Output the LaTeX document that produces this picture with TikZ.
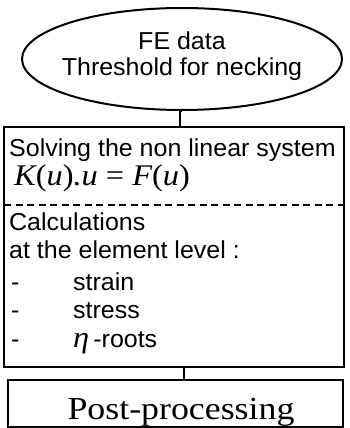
\documentclass[tikz,border=0pt]{standalone}
\usepackage{fontspec}
\setmainfont{Liberation Sans}
\newfontfamily\sansw[FakeStretch=1.02]{Liberation Sans}
\newfontfamily\serifw[FakeStretch=1.12]{Liberation Serif}
\newfontfamily\mathw[FakeStretch=1.08]{Liberation Serif}
\usetikzlibrary{shapes.geometric}
\tikzset{
  line/.style={line width=2pt},
  sans/.style={inner sep=0pt, anchor=base west, font=\sansw\fontsize{24.5}{28}\selectfont},
  csans/.style={inner sep=0pt, anchor=base, font=\sansw\fontsize{24.5}{28}\selectfont},
}
\begin{document}
\begin{tikzpicture}[x=1pt,y=-1pt]
\useasboundingbox (0,0) rectangle (349,428);
% ellipse
\node[draw, line, ellipse, minimum width=320pt, minimum height=102pt, inner sep=0pt] (fe) at (182,59) {};
\node[csans] (fe1) at (182,49) {FE data};
\node[csans] (fe2) at (182,75) {Threshold for necking};
% main box
\node[draw, line, rectangle, minimum width=340pt, minimum height=240pt, inner sep=0pt] (main) at (174,247) {};
\draw[line] (fe.south) -- (fe.south -| 180,0) -- (180,127);
\node[sans] (t1) at (9,156) {Solving the non linear system};
\node[inner sep=0pt, anchor=base west, font=\mathw\fontsize{30}{32}\selectfont] (t2) at (14,185)
  {\itshape K\upshape(\itshape u\upshape)\itshape.u \upshape= \itshape F\upshape(\itshape u\upshape)};
\coordinate (dl) at (4,205);
\coordinate (dr) at (344,205);
\draw[line width=1.5pt, dash pattern=on 7pt off 4.5pt] (dl) -- (dr);
\node[sans] (t3) at (9,230) {Calculations};
\node[sans] (t4) at (9,258) {at the element level :};
\node[sans] (d1) at (11,290) {-};
\node[sans] (d2) at (11,318) {-};
\node[sans] (d3) at (11,347) {-};
\node[sans] (w1) at (73,290) {strain};
\node[sans] (w2) at (73,318) {stress};
\node[sans] (w3) at (73,347) {{\mathw\fontsize{30}{30}\selectfont\itshape η}\,-roots};
% post box
\node[draw, line, rectangle, minimum width=335pt, minimum height=47pt, inner sep=0pt] (post) at (175.5,403.5) {};
\node[inner sep=0pt, anchor=base, font=\serifw\fontsize{32}{34}\selectfont] (pt) at (181,419) {Post-processing};
\coordinate (c2) at (184,367);
\draw[line] (c2) -- (c2 |- post.north);
\end{tikzpicture}
\end{document}
